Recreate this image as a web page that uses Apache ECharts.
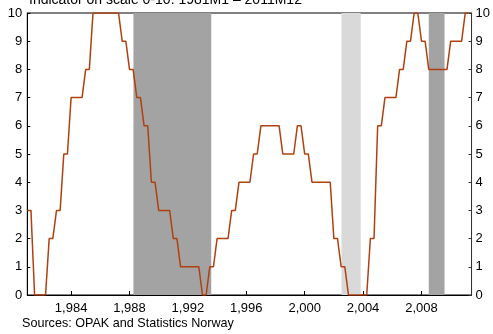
<!DOCTYPE html>
<html><head><meta charset="utf-8">
<script src="https://cdn.jsdelivr.net/npm/echarts@6/dist/echarts.min.js"></script>
<style>html,body{margin:0;padding:0;background:#fff}#c{width:493px;height:334px}</style>
</head><body><div id="c"></div>
<script>
// Quarterly observations (time in fractional years, value on 0-10 scale)
var times = [1981.0,1981.25,1981.5,1981.75,1982.0,1982.25,1982.5,1982.75,1983.0,1983.25,1983.5,1983.75,
  1984.0,1984.25,1984.5,1984.75,1985.0,1985.25,1985.5,1985.75,1986.0,1986.25,1986.5,1986.75,
  1987.0,1987.25,1987.5,1987.75,1988.0,1988.25,1988.5,1988.75,1989.0,1989.25,1989.5,1989.75,
  1990.0,1990.25,1990.5,1990.75,1991.0,1991.25,1991.5,1991.75,1992.0,1992.25,1992.5,1992.75,
  1993.0,1993.25,1993.5,1993.75,1994.0,1994.25,1994.5,1994.75,1995.0,1995.25,1995.5,1995.75,
  1996.0,1996.25,1996.5,1996.75,1997.0,1997.25,1997.5,1997.75,1998.0,1998.25,1998.5,1998.75,
  1999.0,1999.25,1999.5,1999.75,2000.0,2000.25,2000.5,2000.75,2001.0,2001.25,2001.5,2001.75,
  2002.0,2002.25,2002.5,2002.75,2003.0,2003.25,2003.5,2003.75,2004.0,2004.25,2004.5,2004.75,
  2005.0,2005.25,2005.5,2005.75,2006.0,2006.25,2006.5,2006.75,2007.0,2007.25,2007.5,2007.75,
  2008.0,2008.25,2008.5,2008.75,2009.0,2009.25,2009.5,2009.75,2010.0,2010.25,2010.5,2010.75,
  2011.0,2011.25];
var indicator = [3,3,0,0,0,0,2,2,3,3,5,5,
  7,7,7,7,8,8,10,10,10,10,10,10,
  10,10,9,9,8,8,7,7,6,6,4,4,
  3,3,3,3,2,2,1,1,1,1,1,1,
  0,0,1,1,2,2,2,2,3,3,4,4,
  4,4,5,5,6,6,6,6,6,6,5,5,
  5,5,6,6,5,5,4,4,4,4,4,4,
  2,2,1,1,0,0,0,0,0,0,2,2,
  6,6,7,7,7,7,8,8,9,9,10,10,
  9,9,8,8,8,8,8,8,9,9,9,9,
  10,10];
var darkPeriods = [[1988.27,1993.6],[2008.5,2009.58]];
var lightPeriods = [[2002.52,2003.84]];
var tickYears = [1984,1988,1992,1996,2000,2004,2008];
var titleText = 'Indicator on scale 0-10. 1981M1 – 2011M12';
var sourceText = 'Sources: OPAK and Statistics Norway';

var lineData = times.map(function(t,i){return [t, indicator[i]];});
function areas(list){return list.map(function(p){return [{xAxis:p[0]},{xAxis:p[1]}];});}

var chart = echarts.init(document.getElementById('c'), null, {renderer:'canvas'});
var font = 'Liberation Sans, Arial, sans-serif';
chart.setOption({
  animation:false,
  backgroundColor:'#fff',
  title:{text:titleText,left:24,top:-12,textStyle:{fontFamily:font,fontSize:14,fontWeight:'normal',color:'#000'}},
  graphic:[{type:'text',left:22,top:317,style:{text:sourceText,font:'12.6px '+font,fill:'#000'}}],
  grid:{left:27.3,right:21.3,top:13,bottom:39,show:true,borderColor:'#000',borderWidth:1,backgroundColor:'transparent'},
  xAxis:{type:'value',min:1981,max:2011.43,
    axisLine:{lineStyle:{color:'#000',width:1}},
    axisTick:{inside:true,length:4,customValues:tickYears,lineStyle:{color:'#000'}},
    axisLabel:{customValues:tickYears,fontFamily:font,fontSize:13,color:'#000',margin:7},
    splitLine:{show:false}},
  yAxis:[
    {type:'value',min:0,max:10,interval:1,position:'left',
     axisLine:{show:true,lineStyle:{color:'#000'}},
     axisTick:{show:true,inside:true,length:3,lineStyle:{color:'#000'}},
     axisLabel:{fontFamily:font,fontSize:13,color:'#000',margin:5},
     splitLine:{show:false}},
    {type:'value',min:0,max:10,interval:1,position:'right',
     axisLine:{show:true,lineStyle:{color:'#333'}},
     axisTick:{show:true,inside:true,length:3,lineStyle:{color:'#333'}},
     axisLabel:{fontFamily:font,fontSize:13,color:'#000',margin:4},
     splitLine:{show:false}}
  ],
  series:[
    {type:'line',data:[],z:1,silent:true,
     markArea:{silent:true,itemStyle:{color:'#a3a3a3'},data:areas(darkPeriods)}},
    {type:'line',data:[],z:1,silent:true,
     markArea:{silent:true,itemStyle:{color:'#d9d9d9'},data:areas(lightPeriods)}},
    {type:'line',data:lineData,z:5,symbol:'none',clip:true,
     lineStyle:{color:'#b0400f',width:1.5}}
  ]
});
</script></body></html>
